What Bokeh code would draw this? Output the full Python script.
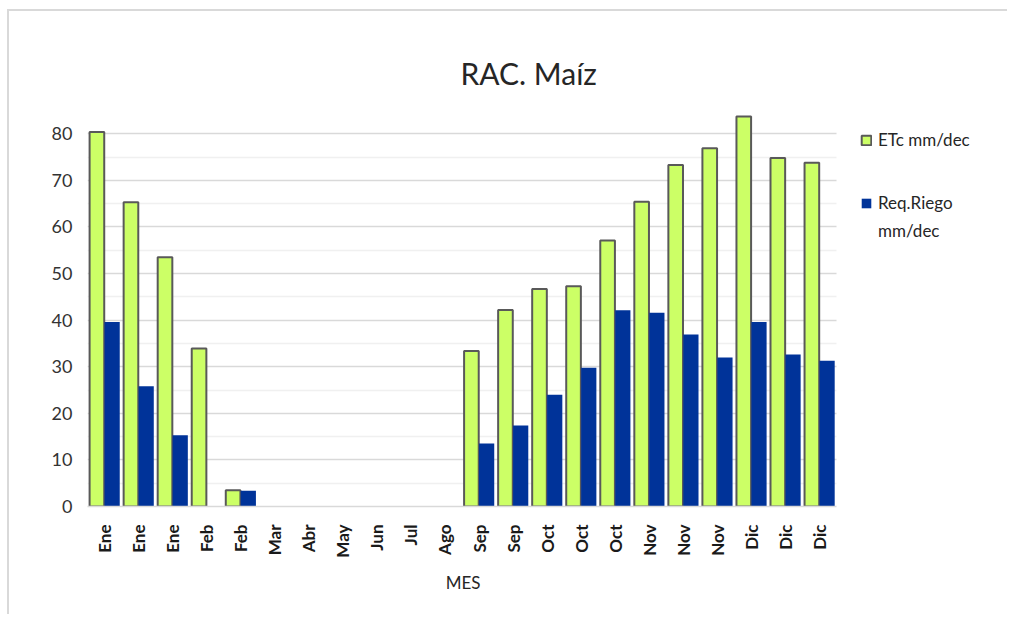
from bokeh.plotting import figure
from bokeh.models import ColumnDataSource, Range1d, FixedTicker, Legend, LegendItem, Title
from bokeh.transform import dodge
from bokeh.embed import file_html
from bokeh.resources import INLINE
import math

months = ["Ene", "Ene", "Ene", "Feb", "Feb", "Mar", "Abr", "May", "Jun", "Jul", "Ago",
          "Sep", "Sep", "Oct", "Oct", "Oct", "Nov", "Nov", "Nov", "Dic", "Dic", "Dic"]
etc = [80.4, 65.3, 53.5, 33.9, 3.5, None, None, None, None, None, None,
       33.4, 42.2, 46.7, 47.3, 57.1, 65.4, 73.3, 76.9, 83.7, 74.8, 73.8]
req = [39.6, 25.8, 15.3, 0, 3.4, None, None, None, None, None, None,
       13.5, 17.4, 24.0, 29.8, 42.1, 41.6, 36.9, 32.0, 39.6, 32.6, 31.3]
y_ticks = [0, 10, 20, 30, 40, 50, 60, 70, 80]
y_minor = [5, 15, 25, 35, 45, 55, 65, 75, 85]

FONT = "Lato"
n = len(months)
idx = list(range(n))
src = ColumnDataSource(dict(
    x=idx,
    etc=[float("nan") if v is None else v for v in etc],
    req=[float("nan") if v is None else v for v in req],
))

# layout (pixels)
W, H = 1000, 605
LEFT, RIGHT, TOP, BOTTOM = 78, 5, 99, 110
CAT_PX = 749 / n                      # width of one category in pixels
frame_w = W - LEFT - RIGHT
x_end = -0.5 + frame_w / CAT_PX       # frame extends under the legend

p = figure(width=W, height=H, output_backend="svg", toolbar_location=None,
           x_range=Range1d(-0.5, x_end), y_range=Range1d(0, 85),
           min_border_left=LEFT, min_border_right=RIGHT,
           min_border_top=TOP, min_border_bottom=BOTTOM)

p.title = Title(text="RAC. Maíz", align="left", offset=373, standoff=40,
                text_font=FONT, text_font_size="30px", text_font_style="normal",
                text_color="#262626")

g = p.vbar(x=dodge("x", -0.2235, range=p.x_range), top="etc", width=0.43, source=src,
           fill_color="#CCFF66", line_color="#595959", line_width=2)
b = p.vbar(x=dodge("x", 0.2235, range=p.x_range), top="req", width=0.447, source=src,
           fill_color="#003399", line_color=None)
# invisible renderer used only for the second line of the legend text
dummy = p.vbar(x=[], top=[], width=0.4, fill_alpha=0, line_alpha=0)

# axes
p.xaxis.bounds = (-0.5, n - 0.5)
p.xaxis.ticker = FixedTicker(ticks=idx)
p.xaxis.major_label_overrides = {i: m for i, m in enumerate(months)}
p.xaxis.major_label_orientation = math.pi / 2
p.xaxis.major_tick_line_color = None
p.xaxis.minor_tick_line_color = None
p.xaxis.axis_line_color = "#d9d9d9"
p.xaxis.axis_line_width = 1.5
p.xaxis.major_label_text_font = FONT
p.xaxis.major_label_text_font_size = "17px"
p.xaxis.major_label_text_font_style = "bold"
p.xaxis.major_label_text_color = "#1a1a1a"
p.xaxis.major_label_standoff = 12
# trailing em spaces shift the centred label over the bars (frame also spans the legend)
p.xaxis.axis_label = "MES" + "\u2003" * 13
p.xaxis.axis_label_text_font = FONT
p.xaxis.axis_label_text_font_size = "17px"
p.xaxis.axis_label_text_font_style = "normal"
p.xaxis.axis_label_text_color = "#262626"
p.xaxis.axis_label_standoff = 11

p.yaxis.ticker = FixedTicker(ticks=y_ticks, minor_ticks=y_minor)
p.yaxis.axis_line_color = None
p.yaxis.major_tick_line_color = None
p.yaxis.minor_tick_line_color = None
p.yaxis.major_label_text_font = FONT
p.yaxis.major_label_text_font_size = "18px"
p.yaxis.major_label_text_color = "#333333"
p.yaxis.major_label_standoff = 9

p.xgrid.grid_line_color = None
p.ygrid.grid_line_color = "#d9d9d9"
p.ygrid.grid_line_width = 1.5
p.ygrid.minor_grid_line_color = "#f0f0f0"
p.ygrid.minor_grid_line_width = 1.5
p.ygrid.cross_bounds = (-0.5, n - 0.5)

p.outline_line_color = None
p.background_fill_color = "white"
p.border_fill_color = "white"

frame_h = H - TOP - BOTTOM
gx = 773  # legend glyph left, px from frame left


def style(lg):
    lg.border_line_color = None
    lg.background_fill_alpha = 0
    lg.glyph_width = 12
    lg.glyph_height = 12
    lg.label_standoff = 6
    lg.label_text_font = FONT
    lg.label_text_font_size = "17px"
    lg.label_text_color = "#262626"
    lg.label_height = 20
    lg.padding = 0
    lg.margin = 0


leg1 = Legend(items=[LegendItem(label="ETc mm/dec", renderers=[g])],
              location=(gx, frame_h - 40))
style(leg1)
leg2 = Legend(items=[LegendItem(label="Req.Riego", renderers=[b]),
                     LegendItem(label="mm/dec", renderers=[dummy])],
              location=(gx, frame_h - 131))
style(leg2)
leg2.spacing = 7
p.add_layout(leg1)
p.add_layout(leg2)

p.styles = {"margin-left": "7px", "margin-top": "9px",
            "border-left": "2px solid #d9d9d9", "border-top": "2px solid #d9d9d9"}

open("out.html", "w").write(file_html(p, INLINE))
